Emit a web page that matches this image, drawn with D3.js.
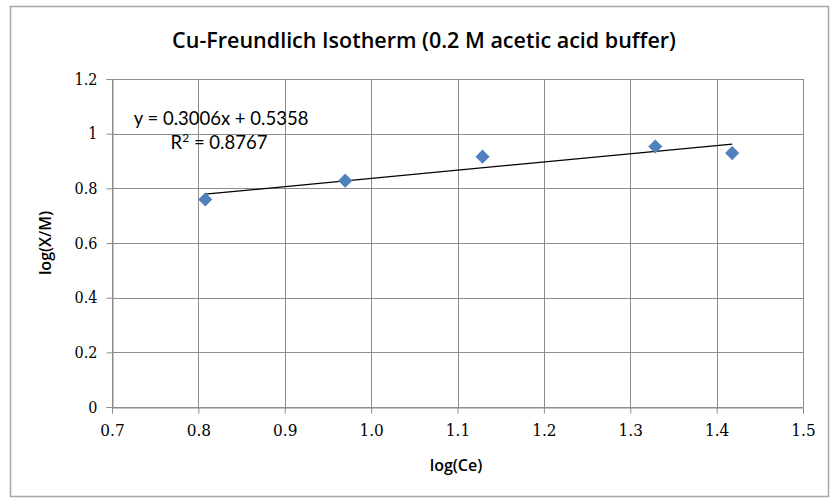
<!DOCTYPE html>
<html>
<head>
<meta charset="utf-8">
<script src="https://cdn.jsdelivr.net/npm/d3@7"></script>
<style>
  body { margin: 0; background: #fff; }
  svg { display: block; }
</style>
</head>
<body>
<svg width="830" height="499"></svg>
<script>
// data
var logCe = [0.808, 0.970, 1.129, 1.329, 1.418];
var logXM = [0.759, 0.828, 0.916, 0.953, 0.929];
var xTicks = [0.7, 0.8, 0.9, 1.0, 1.1, 1.2, 1.3, 1.4, 1.5];
var yTicks = [0, 0.2, 0.4, 0.6, 0.8, 1, 1.2];
var slope = 0.3006;
var intercept = 0.5358;
var rSquared = 0.8767;

var svg = d3.select('svg');

// outer chart border
svg.append('rect')
    .attr('x', 10.5).attr('y', 6.5)
    .attr('width', 818).attr('height', 490)
    .attr('fill', '#fff')
    .attr('stroke', '#a6a6a6')
    .attr('stroke-width', 1.5);

var x = d3.scaleLinear().domain([0.7, 1.5]).range([112, 803]);
var y = d3.scaleLinear().domain([0, 1.2]).range([407, 79]);

// gridlines
svg.append('g').selectAll('line.hgrid').data(yTicks).enter()
    .append('line')
    .attr('class', 'hgrid')
    .attr('x1', x(0.7)).attr('x2', x(1.5))
    .attr('y1', function(d) { return Math.round(y(d)) + 0.5; })
    .attr('y2', function(d) { return Math.round(y(d)) + 0.5; })
    .attr('stroke', '#8c8c8c');
svg.append('g').selectAll('line.vgrid').data(xTicks).enter()
    .append('line')
    .attr('class', 'vgrid')
    .attr('y1', y(0)).attr('y2', y(1.2))
    .attr('x1', function(d) { return Math.round(x(d)) + 0.5; })
    .attr('x2', function(d) { return Math.round(x(d)) + 0.5; })
    .attr('stroke', '#8c8c8c');

// axes
var xAxis = svg.append('g')
    .attr('transform', 'translate(0,' + (Math.round(y(0)) + 0.5) + ')')
    .call(d3.axisBottom(x).tickValues(xTicks).tickSize(6).tickPadding(10)
        .tickFormat(d3.format('.1f')));
var yAxis = svg.append('g')
    .attr('transform', 'translate(' + (Math.round(x(0.7)) + 0.5) + ',0)')
    .call(d3.axisLeft(y).tickValues(yTicks).tickSize(6).tickPadding(9)
        .tickFormat(function(d) { return d3.format('')(d); }));

[xAxis, yAxis].forEach(function(a) {
    a.select('.domain').attr('stroke', '#8c8c8c');
    a.selectAll('.tick line').attr('stroke', '#8c8c8c');
});
xAxis.selectAll('text')
    .attr('fill', '#000')
    .style('font-family', '"DejaVu Serif Condensed", "Liberation Serif", serif')
    .style('font-size', '17px');
yAxis.selectAll('text')
    .attr('fill', '#000')
    .style('font-family', '"DejaVu Serif Condensed", "Liberation Serif", serif')
    .style('font-size', '16px');

// trend line
var xr = d3.extent(logCe);
svg.append('line')
    .attr('x1', x(xr[0])).attr('y1', y(slope * xr[0] + intercept))
    .attr('x2', x(xr[1])).attr('y2', y(slope * xr[1] + intercept))
    .attr('stroke', '#000')
    .attr('stroke-width', 1.2);

// markers
svg.append('g').selectAll('path.pt').data(logCe).enter()
    .append('path')
    .attr('class', 'pt')
    .attr('d', d3.symbol().type(d3.symbolSquare).size(100))
    .attr('transform', function(d, i) {
        return 'translate(' + x(d) + ',' + y(logXM[i]) + ') rotate(45)';
    })
    .attr('fill', '#4f81bd');

// equation label
var eq = svg.append('g')
    .style('font-family', 'Lato, sans-serif')
    .style('font-size', '18.5px')
    .attr('fill', '#000');
eq.append('text')
    .attr('x', 221).attr('y', 125)
    .attr('text-anchor', 'middle')
    .text('y = ' + slope + 'x + ' + intercept);
var r2 = eq.append('text')
    .attr('x', 219).attr('y', 149)
    .attr('text-anchor', 'middle');
r2.append('tspan').text('R');
r2.append('tspan').attr('baseline-shift', 'super').style('font-size', '12px').text('2');
r2.append('tspan').text(' = ' + rSquared);

// titles
svg.append('text')
    .attr('x', 424).attr('y', 48)
    .attr('text-anchor', 'middle')
    .style('font-family', '"Open Sans", sans-serif')
    .style('font-size', '21.5px')
    .style('font-weight', '600')
    .text('Cu-Freundlich Isotherm (0.2 M acetic acid buffer)');

svg.append('text')
    .attr('x', 456).attr('y', 471)
    .attr('text-anchor', 'middle')
    .style('font-family', '"Open Sans", sans-serif')
    .style('font-size', '16px')
    .style('font-weight', '600')
    .text('log(Ce)');

svg.append('text')
    .attr('transform', 'translate(51,243) rotate(-90)')
    .attr('text-anchor', 'middle')
    .style('font-family', '"Open Sans", sans-serif')
    .style('font-size', '16px')
    .style('font-weight', '600')
    .text('log(X/M)');
</script>
</body>
</html>
